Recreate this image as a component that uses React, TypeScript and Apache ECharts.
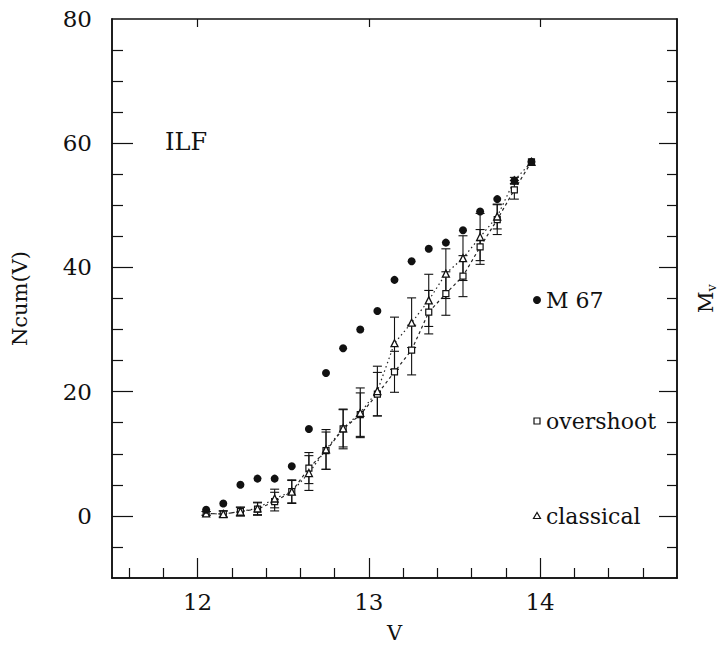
import React, { useEffect, useRef } from "react";
import * as echarts from "echarts";

// V magnitude bins
const V = [12.05, 12.15, 12.25, 12.35, 12.45, 12.55, 12.65, 12.75, 12.85, 12.95, 13.05, 13.15, 13.25, 13.35, 13.45, 13.55, 13.65, 13.75, 13.85, 13.95];
// M 67 observed cumulative counts
const m67 = [1, 2, 5, 6, 6, 8, 14, 23, 27, 30, 33, 38, 41, 43, 44, 46, 49, 51, 54, 57];
// overshoot model
const overshoot = [0.4, 0.3, 0.7, 1.1, 2.3, 3.9, 7.7, 10.5, 14.0, 16.3, 19.6, 23.2, 26.7, 32.8, 35.8, 38.6, 43.3, 47.7, 52.5, 57];
const overshootErr = [0.3, 0.5, 0.7, 1.0, 1.5, 1.8, 2.5, 3.0, 3.2, 3.5, 3.5, 3.3, 4.0, 3.5, 3.5, 3.3, 2.8, 2.4, 1.5, 0];
// classical model
const classical = [0.4, 0.3, 0.7, 1.2, 2.8, 3.9, 6.9, 10.7, 14.1, 16.6, 20.1, 27.8, 31.1, 34.7, 39.0, 41.5, 44.9, 48.2, 54.0, 57];
const classicalErr = [0.3, 0.5, 0.7, 1.0, 1.5, 1.9, 2.8, 3.2, 3.0, 4.0, 4.0, 4.2, 4.0, 4.2, 4.0, 3.6, 3.8, 2.0, 0.5, 0];

// axis ticks
const xMajor = [12, 13, 14];
const xMinor = [11.6, 11.8, 12.2, 12.4, 12.6, 12.8, 13.2, 13.4, 13.6, 13.8, 14.2, 14.4, 14.6];
const yLabels = [0, 20, 40, 60, 80];
const yMajor = [0, 20, 40, 60];
const yMinor = [-5, 5, 10, 15, 25, 30, 35, 45, 50, 55, 65, 70, 75];

const FONT = "DejaVu Serif";
const INK = "#111";

function errorBarSeries(vals: number[], errs: number[]) {
  const data = V.map((v, i) => [v, vals[i] - errs[i], vals[i] + errs[i]]).filter((_, i) => errs[i] > 0);
  return {
    type: "custom",
    data,
    dimensions: ["x", "lo", "hi"],
    encode: { x: 0, y: [1, 2] },
    z: 3,
    silent: true,
    renderItem: (params: any, api: any) => {
      const x = api.value(0);
      const top = api.coord([x, api.value(2)]);
      const bot = api.coord([x, api.value(1)]);
      const w = 4.5;
      const st = { stroke: INK, lineWidth: 1.1 };
      return {
        type: "group",
        children: [
          { type: "line", shape: { x1: top[0], y1: top[1], x2: bot[0], y2: bot[1] }, style: st },
          { type: "line", shape: { x1: top[0] - w, y1: top[1], x2: top[0] + w, y2: top[1] }, style: st },
          { type: "line", shape: { x1: bot[0] - w, y1: bot[1], x2: bot[0] + w, y2: bot[1] }, style: st },
        ],
      };
    },
  };
}

export default function App() {
  const ref = useRef<HTMLDivElement>(null);
  useEffect(() => {
    document.body.style.margin = "0";
    const chart = echarts.init(ref.current!, null, { renderer: "svg" });
    const axisLine = { show: true, onZero: false, lineStyle: { color: INK, width: 1.5 } };
    const xBase = { type: "value", min: 11.5, max: 14.8, splitLine: { show: false }, axisLine };
    const yBase = { type: "value", min: -10, max: 80, splitLine: { show: false }, axisLine };
    const tick = (vals: number[], len: number) => ({
      show: true, inside: true, length: len, customValues: vals, lineStyle: { color: INK, width: 1.2 },
    });
    chart.setOption({
      animation: false,
      backgroundColor: "#fff",
      grid: { left: 112, right: 42, top: 19, bottom: 70 },
      xAxis: [
        {
          ...xBase, position: "bottom",
          axisTick: tick(xMajor, 20),
          axisLabel: { customValues: xMajor, fontFamily: FONT, fontSize: 23, color: INK, margin: 12 },
          name: "V", nameLocation: "middle", nameGap: 44,
          nameTextStyle: { fontFamily: FONT, fontSize: 21, color: INK },
        },
        { ...xBase, position: "bottom", axisTick: tick(xMinor, 10), axisLabel: { show: false } },
        { ...xBase, position: "top", axisTick: tick(xMajor, 8), axisLabel: { show: false } },
      ],
      yAxis: [
        {
          ...yBase, position: "left",
          axisTick: tick(yMajor, 21),
          axisLabel: { customValues: yLabels, fontFamily: FONT, fontSize: 23, color: INK, margin: 20 },
          name: "Ncum(V)", nameLocation: "middle", nameGap: 82, nameRotate: 90,
          nameTextStyle: { fontFamily: FONT, fontSize: 21, color: INK },
        },
        { ...yBase, position: "left", axisTick: tick(yMinor, 11), axisLabel: { show: false } },
        {
          ...yBase, position: "right",
          axisTick: tick(yMajor, 18),
          axisLabel: { show: false },
          name: "{a|M}{b|v}", nameLocation: "middle", nameGap: 16, nameRotate: 90,
          nameTextStyle: {
            fontFamily: FONT, fontSize: 21, color: INK,
            rich: {
              a: { fontFamily: FONT, fontSize: 21, color: INK },
              b: { fontFamily: FONT, fontSize: 13, color: INK, padding: [12, 0, 0, 0] },
            },
          },
        },
        { ...yBase, position: "right", axisTick: tick(yMinor, 10), axisLabel: { show: false } },
      ],
      series: [
        {
          type: "line",
          name: "overshoot",
          data: V.map((v, i) => [v, overshoot[i]]),
          symbol: "rect", symbolSize: 6, showAllSymbol: true,
          itemStyle: { color: "#fff", borderColor: INK, borderWidth: 1.2 },
          lineStyle: { color: "#222", width: 1.2, type: [3, 3] },
          z: 4,
        },
        {
          type: "line",
          name: "classical",
          data: V.map((v, i) => [v, classical[i]]),
          symbol: "triangle", symbolSize: 7, showAllSymbol: true,
          itemStyle: { color: "#fff", borderColor: INK, borderWidth: 1.3 },
          lineStyle: { color: "#222", width: 1.2, type: [1.5, 3] },
          z: 4,
        },
        errorBarSeries(overshoot, overshootErr),
        errorBarSeries(classical, classicalErr),
        {
          type: "scatter",
          name: "M 67",
          data: V.map((v, i) => [v, m67[i]]),
          symbol: "circle", symbolSize: 8,
          itemStyle: { color: INK, opacity: 1 },
          z: 6,
        },
      ],
      graphic: [
        { type: "text", left: 165, top: 130, style: { text: "ILF", fontFamily: FONT, fontSize: 24, fill: INK } },
        { type: "circle", shape: { cx: 537, cy: 300, r: 4 }, style: { fill: INK } },
        { type: "text", x: 546, y: 300, style: { text: "M 67", fontFamily: FONT, fontSize: 22, fill: INK, verticalAlign: "middle" } },
        { type: "rect", shape: { x: 534, y: 418, width: 6, height: 6 }, style: { fill: "#fff", stroke: INK, lineWidth: 1.2 } },
        { type: "text", x: 546, y: 421, style: { text: "overshoot", fontFamily: FONT, fontSize: 22, fill: INK, verticalAlign: "middle" } },
        { type: "polygon", shape: { points: [[537, 512.5], [533.5, 518.5], [540.5, 518.5]] }, style: { fill: "#fff", stroke: INK, lineWidth: 1.2 } },
        { type: "text", x: 546, y: 516, style: { text: "classical", fontFamily: FONT, fontSize: 22, fill: INK, verticalAlign: "middle" } },
      ],
    });
    return () => chart.dispose();
  }, []);
  return <div ref={ref} style={{ width: 726, height: 648 }} />;
}
